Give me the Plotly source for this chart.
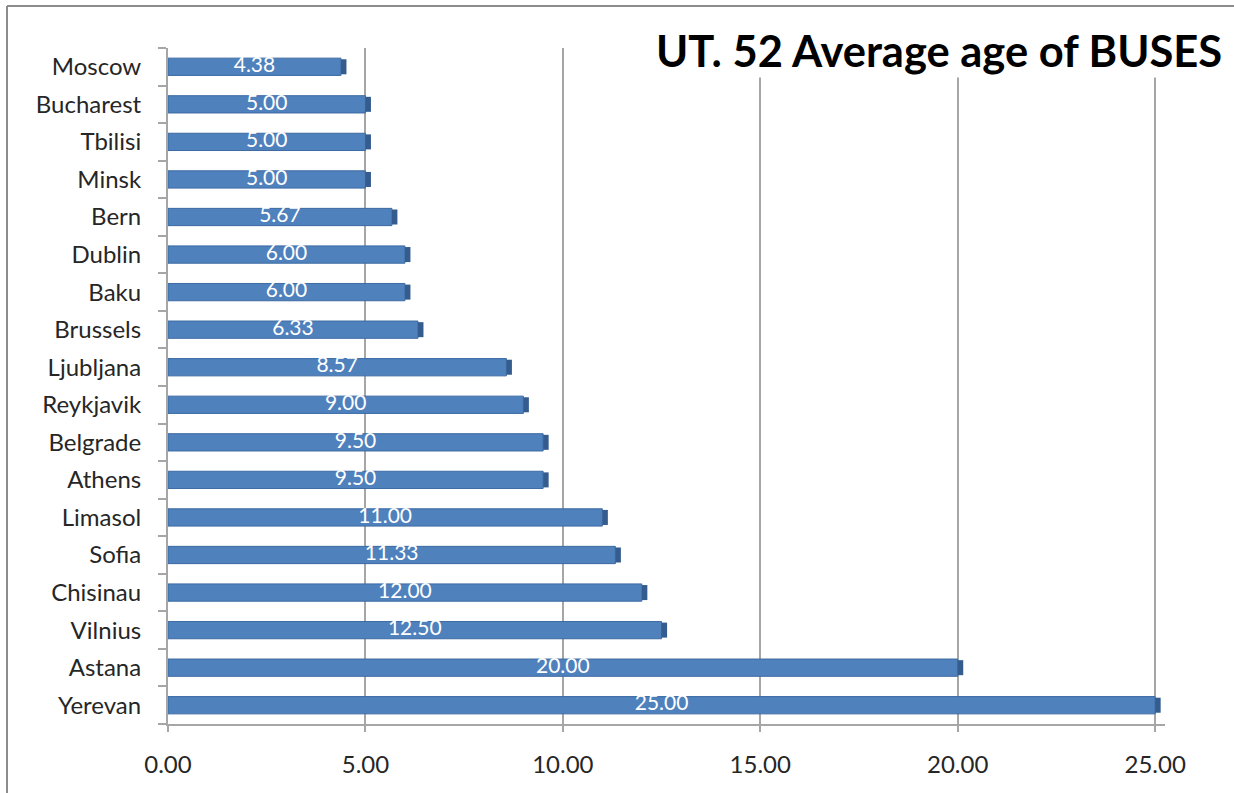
import plotly.graph_objects as go

cities = ["Moscow", "Bucharest", "Tbilisi", "Minsk", "Bern", "Dublin", "Baku", "Brussels",
          "Ljubljana", "Reykjavik", "Belgrade", "Athens", "Limasol", "Sofia", "Chisinau",
          "Vilnius", "Astana", "Yerevan"]
ages = [4.38, 5.00, 5.00, 5.00, 5.67, 6.00, 6.00, 6.33, 8.57, 9.00, 9.50, 9.50, 11.00,
        11.33, 12.00, 12.50, 20.00, 25.00]
x_ticks = [0, 5, 10, 15, 20, 25]
x_tick_labels = ["0.00", "5.00", "10.00", "15.00", "20.00", "25.00"]
title_text = "UT. 52 Average age of BUSES"

FONT = "Lato, Open Sans, sans-serif"
BAR = "#4F81BD"
EDGE = "#345C8F"
GRID = "#A6A6A6"
cap = 0.14

W, H = 1234, 793
L, R, T, B = 168, 69, 48, 69
PW, PH = W - L - R, H - T - B


def px_x(p):
    return (p - L) / PW


def px_y(p):
    return (H - B - p) / PH


fig = go.Figure()
fig.add_trace(go.Bar(
    y=cities, x=ages, orientation="h", width=0.46,
    marker=dict(color=BAR, line=dict(color="#3C6AA3", width=1)),
    hoverinfo="x+y", showlegend=False,
))
fig.add_trace(go.Bar(
    y=cities, x=[cap] * len(ages), base=ages, orientation="h", width=0.40,
    marker=dict(color=EDGE, line=dict(width=0)),
    hoverinfo="skip", showlegend=False,
))
fig.add_trace(go.Scatter(
    y=cities, x=[v / 2 for v in ages], mode="text",
    text=[f"{v:.2f}" for v in ages],
    textfont=dict(family=FONT, size=21, color="white"),
    hoverinfo="skip", showlegend=False,
))

fig.update_layout(
    width=W, height=H,
    margin=dict(l=L, r=R, t=T, b=B, autoexpand=False),
    paper_bgcolor="white", plot_bgcolor="white",
    barmode="overlay",
    font=dict(family=FONT, color="#262626"),
    annotations=[dict(
        text=f"<b>{title_text}</b>", xref="paper", yref="paper",
        x=px_x(1224), y=px_y(50), xanchor="right", yanchor="middle", showarrow=False,
        font=dict(family=FONT, size=43.5, color="black"), bgcolor="white",
    )],
    shapes=[
        dict(type="line", xref="paper", yref="paper", x0=px_x(7), x1=px_x(W + 5),
             y0=px_y(6), y1=px_y(6), line=dict(color="#8C8C8C", width=2), layer="above"),
        dict(type="line", xref="paper", yref="paper", x0=px_x(7), x1=px_x(7),
             y0=px_y(H + 5), y1=px_y(6), line=dict(color="#8C8C8C", width=2), layer="above"),
    ],
)
fig.update_xaxes(
    range=[0, 25.25], tickvals=x_ticks, ticktext=x_tick_labels,
    showgrid=True, gridcolor=GRID, gridwidth=2, zeroline=False,
    showline=True, linecolor=GRID, linewidth=2,
    ticks="outside", ticklen=6, tickcolor=GRID, tickwidth=2,
    tickfont=dict(family=FONT, size=24, color="#262626"),
    ticklabelstandoff=12, automargin=False,
)
fig.update_yaxes(
    categoryorder="array", categoryarray=cities[::-1], range=[-0.5, 17.5],
    showgrid=False, zeroline=False,
    showline=True, linecolor=GRID, linewidth=2,
    ticks="outside", tickson="boundaries", ticklen=8, tickcolor=GRID, tickwidth=2,
    tickfont=dict(family=FONT, size=24, color="#262626"),
    ticklabelstandoff=20, automargin=False,
)

fig.write_html("out.html", config={"displayModeBar": False},
               post_script="document.body.style.margin='0px';")
